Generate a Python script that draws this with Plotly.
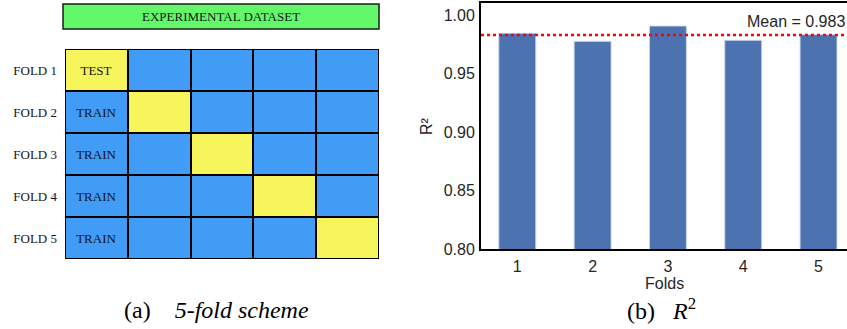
import numpy as np
import plotly.graph_objects as go

# ---------------- data ----------------
fold_labels = ["FOLD 1", "FOLD 2", "FOLD 3", "FOLD 4", "FOLD 5"]
test_block = [0, 1, 2, 3, 4]          # index of the test block in each fold
n_blocks = 5
role_test, role_train = "TEST", "TRAIN"

folds = [1, 2, 3, 4, 5]
r2_values = [0.9844, 0.9775, 0.9906, 0.9784, 0.9832]
mean_r2 = 0.983
y_ticks = [0.80, 0.85, 0.90, 0.95, 1.00]

# ---------------- build heatmap matrix ----------------
z = [[1 if c == t else 0 for c in range(n_blocks)] for t in test_block]
txt = [[(role_test if t == 0 else role_train) if c == 0 else "" for c in range(n_blocks)]
       for t in test_block]

W, H = 847, 329
SERIF = "Liberation Serif, Times New Roman, serif"
SANS = "Liberation Sans, Arial, sans-serif"
BLUE = "#409cf5"
YELLOW = "#f6f65c"
GREEN = "#62f86a"

fig = go.Figure()

fig.add_trace(go.Heatmap(
    z=z, x=list(range(n_blocks)), y=list(range(len(fold_labels))),
    text=txt, texttemplate="%{text}",
    textfont=dict(family=SERIF, size=13, color="#151515"),
    colorscale=[[0, BLUE], [1, YELLOW]], zmin=0, zmax=1,
    showscale=False, xgap=2, ygap=2, hoverinfo="skip",
    xaxis="x", yaxis="y",
))

fig.add_trace(go.Bar(
    x=folds, y=r2_values, width=0.49,
    marker=dict(color="#4c72b0", line=dict(color="rgba(200,215,240,0.9)", width=1)),
    xaxis="x2", yaxis="y2", hoverinfo="skip",
))

def px_x(p):
    return p / W

def px_y(p):
    return (H - p) / H

fig.update_layout(
    template="none",
    width=W, height=H,
    margin=dict(l=0, r=0, t=0, b=0, autoexpand=False),
    paper_bgcolor="white", plot_bgcolor="white",
    showlegend=False,
    xaxis=dict(domain=[px_x(65), px_x(379)], range=[-0.5, 4.5], visible=False,
               automargin=False),
    yaxis=dict(domain=[px_y(259), px_y(49)], range=[4.5, -0.5], automargin=False,
               tickmode="array", tickvals=list(range(len(fold_labels))), ticktext=fold_labels,
               tickfont=dict(family=SERIF, size=13, color="#151515"),
               showgrid=False, zeroline=False, showline=False, ticks="",
               ticklabelstandoff=7),
    xaxis2=dict(domain=[px_x(481), 1.0], range=[0.518, 5.378], anchor="y2",
                automargin=False,
                tickmode="array", tickvals=folds, ticktext=[str(f) for f in folds],
                tickfont=dict(family=SANS, size=16, color="#262626"),
                showline=True, linecolor="black", linewidth=2, mirror=True,
                showgrid=False, zeroline=False, ticks="", ticklabelstandoff=2),
    yaxis2=dict(domain=[px_y(249), px_y(3)], range=[0.8, 1.0103], anchor="x2",
                automargin=False,
                tickmode="array", tickvals=y_ticks, tickformat=".2f",
                tickfont=dict(family=SANS, size=16, color="#262626"),
                showline=True, linecolor="black", linewidth=2,
                showgrid=False, zeroline=False, ticks="", ticklabelstandoff=1),
)

# black backing for grid lines between heatmap cells
fig.add_shape(type="rect", xref="x", yref="y", x0=-0.5, x1=n_blocks - 0.5,
              y0=-0.5, y1=len(fold_labels) - 0.5, layer="below",
              fillcolor="black", line=dict(color="black", width=2))

# header box
fig.add_shape(type="rect", xref="paper", yref="paper",
              x0=px_x(63), x1=px_x(379), y0=px_y(29), y1=px_y(4),
              fillcolor=GREEN, line=dict(color="#1a1a1a", width=1.5))
fig.add_annotation(x=px_x(221), y=px_y(16.5), xref="paper", yref="paper",
                   xanchor="center", yanchor="middle",
                   text="EXPERIMENTAL DATASET", showarrow=False,
                   font=dict(family=SERIF, size=13, color="#151515"))

# mean line
fig.add_shape(type="line", xref="x2 domain", yref="y2", x0=0, x1=1,
              y0=mean_r2, y1=mean_r2, layer="above",
              line=dict(color="red", width=2.5, dash="dot"))
fig.add_annotation(x=px_x(847), y=px_y(22), xref="paper", yref="paper",
                   xanchor="right", yanchor="middle", showarrow=False,
                   text=f"Mean = {mean_r2:.3f}",
                   font=dict(family=SANS, size=16, color="#262626"))

# axis titles
fig.add_annotation(x=px_x(664), y=px_y(283), xref="paper", yref="paper",
                   xanchor="center", yanchor="middle",
                   text="Folds", showarrow=False,
                   font=dict(family=SANS, size=16, color="#262626"))
fig.add_annotation(x=px_x(426), y=px_y(126), xref="paper", yref="paper",
                   xanchor="center", yanchor="middle",
                   text="R²", showarrow=False, textangle=-90,
                   font=dict(family=SANS, size=16, color="#262626"))

# captions
fig.add_annotation(x=px_x(217), y=px_y(310), xref="paper", yref="paper",
                   xanchor="center", yanchor="middle",
                   text="(a)&nbsp;&nbsp;&nbsp;&nbsp;<i>5-fold scheme</i>", showarrow=False,
                   font=dict(family=SERIF, size=24, color="black"))
fig.add_annotation(x=px_x(661), y=px_y(309), xref="paper", yref="paper",
                   xanchor="center", yanchor="middle",
                   text="(b)&nbsp;&nbsp;&nbsp;<i>R</i><sup>2</sup>", showarrow=False,
                   font=dict(family=SERIF, size=24, color="black"))

fig.write_html("out.html")
